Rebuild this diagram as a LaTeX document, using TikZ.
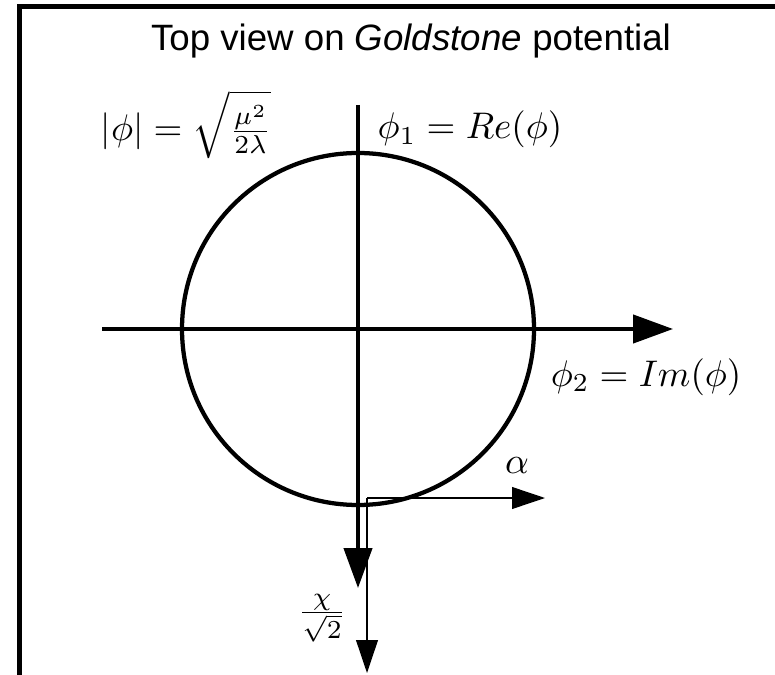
\documentclass[tikz,border=0pt]{standalone}
\usepackage{fontspec}
\newfontfamily\titlefont{Liberation Sans}
\usetikzlibrary{arrows.meta}
\tikzset{
  frame/.style={line width=1.35pt},
  thickline/.style={line width=1.15pt},
  axisarrow/.style={line width=1.05pt,-{Triangle[length=10.8pt,width=7.6pt]}},
  thinarrow/.style={line width=0.35pt,-{Triangle[length=8.9pt,width=5.9pt]}},
  lbl/.style={inner sep=0pt,anchor=base west},
}
\begin{document}
\begin{tikzpicture}[x=0.27pt,y=-0.27pt]
\useasboundingbox (0,0) rectangle (775,675);
\clip (0,0) rectangle (775,675);
% frame
\coordinate (fb) at (19.5,700);
\coordinate (ftl) at (19.5,7);
\coordinate (fr) at (800,7);
\draw[frame] (fb) -- (ftl) -- (fr);
% title
\node[font=\titlefont\fontsize{9.9}{12}\selectfont] (title) at (411,41) {Top view on \textit{Goldstone} potential};
% circle and axes
\coordinate (O) at (358,329);
\draw[thickline] (O) circle[radius=176];
\coordinate (hl) at (102,329);
\coordinate (hr) at (673,329);
\coordinate (vt) at (358,105);
\coordinate (vb) at (358,588);
\draw[axisarrow] (hl) -- (hr);
\draw[axisarrow] (vt) -- (vb);
% thin arrows
\coordinate (c) at (367,498);
\coordinate (ca) at (545,498);
\coordinate (cc) at (367,673);
\draw[thinarrow] (c) -- (ca);
\draw[thinarrow] (c) -- (cc);
% labels
\node[lbl] (modl) at (100,141) {$|\phi| = \sqrt{\frac{\mu^2\rule{0pt}{5pt}}{2\lambda}\rule{0pt}{11pt}}$};
\node[lbl] (phione) at (377,139) {$\phi_1 = Re(\phi)$};
\node[lbl] (phitwo) at (550,386) {$\phi_2 = Im(\phi)$};
\node[inner sep=0pt,anchor=base] (alpha) at (517,473) {$\alpha$};
\node[inner sep=0pt] (chi) at (322,618) {$\frac{\chi}{\sqrt{2}}$};
\end{tikzpicture}
\end{document}
